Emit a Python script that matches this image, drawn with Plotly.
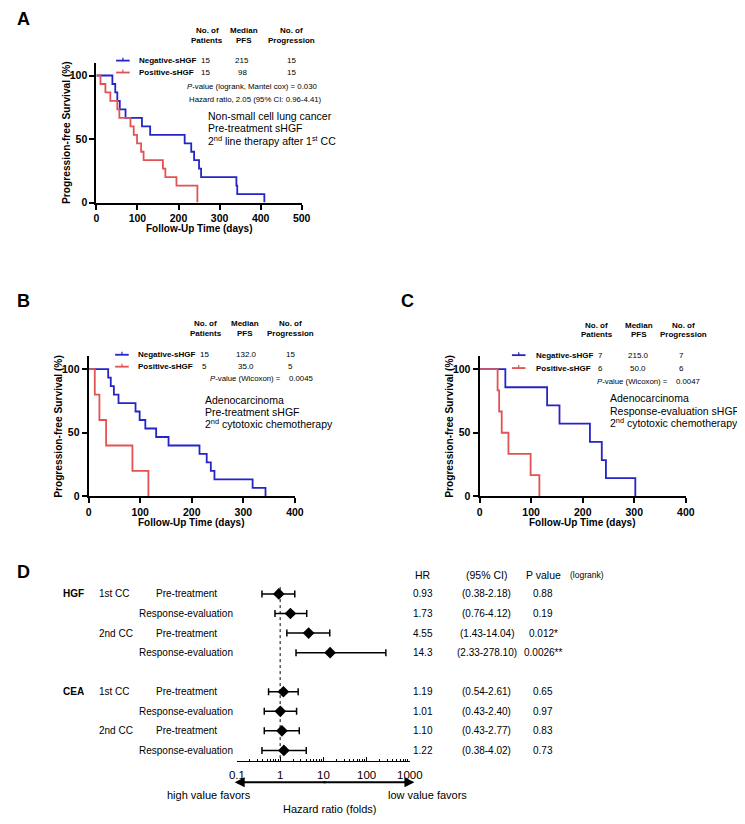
import plotly.graph_objects as go

W, H = 745, 824
OFF = 8  # page body margin of the html page
FONT = "Arial, Liberation Sans, sans-serif"
BLUE = "#2424c8"
RED = "#e25252"

# ---------------- data ----------------
# Kaplan-Meier event (progression) times, days
a_neg_times = [39, 46, 51, 57, 71, 111, 131, 215, 231, 238, 250, 255, 341, 343, 409]
a_pos_times = [10, 22, 34, 51, 56, 83, 91, 99, 109, 115, 162, 168, 195, 246, 246]
b_neg_times = [38, 43, 49, 58, 91, 99, 110, 131, 155, 215, 229, 237, 244, 318, 343]
b_pos_times = [12, 21, 34, 85, 116]
c_neg_times = [50, 131, 155, 214, 237, 245, 302]
c_pos_times = [35, 38, 43, 56, 99, 116]

group_labels = ["Negative-sHGF", "Positive-sHGF"]
a_median = ["215", "98"]
b_median = ["132.0", "35.0"]
c_median = ["215.0", "50.0"]
a_progression = ["15", "15"]
b_progression = ["15", "5"]
c_progression = ["7", "6"]

km_xticks_a = [0, 100, 200, 300, 400, 500]
km_xticks_bc = [0, 100, 200, 300, 400]
km_yticks = [0, 50, 100]

# Forest plot
forest_markers = ["HGF", "CEA"]
forest_lines = ["1st CC", "2nd CC"]
forest_timing = ["Pre-treatment", "Response-evaluation"]
forest_hr = [0.93, 1.73, 4.55, 14.3, 1.19, 1.01, 1.10, 1.22]
forest_hr_text = ["0.93", "1.73", "4.55", "14.3", "1.19", "1.01", "1.10", "1.22"]
forest_lo = [0.38, 0.76, 1.43, 2.33, 0.54, 0.43, 0.43, 0.38]
forest_hi = [2.18, 4.12, 14.04, 278.10, 2.61, 2.40, 2.77, 4.02]
forest_p = ["0.88", "0.19", "0.012*", "0.0026**", "0.65", "0.97", "0.83", "0.73"]
forest_xticks = [0.1, 1, 10, 100, 1000]
forest_xticktext = ["0.1", "1", "10", "100", "1000"]


def X(px):
    return (px - OFF) / W


def Y(py):
    return 1 - (py - OFF) / H


def km_xy(times):
    xs, ys = [0], [100.0]
    at_risk = len(times)
    s = 100.0
    for t in sorted(set(times)):
        d = times.count(t)
        s = s * (at_risk - d) / at_risk
        at_risk -= d
        xs.append(t)
        ys.append(s)
    return xs, ys


fig = go.Figure()
ann = []
shapes = []


def txt(x, y, s, size, anchor="left", color="black", yref="paper", xref="paper", vanchor="middle"):
    ann.append(dict(x=x, y=y, xref=xref, yref=yref, text=s, showarrow=False,
                    xanchor=anchor, yanchor=vanchor, borderpad=0,
                    font=dict(size=size, color=color, family=FONT)))


# ---------------- KM panels ----------------
panels = [
    dict(ax="", neg=a_neg_times, pos=a_pos_times, xdom=(90.7, 302), ydom=(204, 63.2), xmax=500,
         xt=km_xticks_a),
    dict(ax="2", neg=b_neg_times, pos=b_pos_times, xdom=(82.7, 295), ydom=(500, 358.9), xmax=400,
         xt=km_xticks_bc),
    dict(ax="3", neg=c_neg_times, pos=c_pos_times, xdom=(485, 697.3), ydom=(500, 358.9), xmax=400,
         xt=km_xticks_bc),
]

layout_axes = {}
for p in panels:
    sfx = p["ax"]
    for times, col in ((p["neg"], BLUE), (p["pos"], RED)):
        xs, ys = km_xy(times)
        fig.add_trace(go.Scatter(x=xs, y=ys, mode="lines", line=dict(color=col, width=1.8, shape="hv"),
                                 xaxis="x" + sfx, yaxis="y" + sfx, showlegend=False, hoverinfo="skip"))
    common = dict(showline=True, linewidth=2, linecolor="black", ticks="outside", ticklen=5,
                  tickwidth=2, tickcolor="black", showgrid=False, zeroline=False,
                  tickfont=dict(size=10.5, family=FONT, color="black", weight="bold"))
    layout_axes["xaxis" + sfx] = dict(domain=[X(p["xdom"][0]), X(p["xdom"][1])], range=[0, p["xmax"]],
                                      tickvals=p["xt"], anchor="y" + sfx, **common)
    layout_axes["yaxis" + sfx] = dict(domain=[Y(p["ydom"][0]), Y(p["ydom"][1])], range=[0, 110],
                                      tickvals=km_yticks, anchor="x" + sfx, **common)
    # axis titles
    xc = (p["xdom"][0] + p["xdom"][1]) / 2
    yc = (p["ydom"][0] + p["ydom"][1]) / 2
    txt(X(xc), Y(p["ydom"][0] + 26), "<b>Follow-Up Time (days)</b>", 10, anchor="center")
    ann.append(dict(x=X(p["xdom"][0] - 31), y=Y(yc), xref="paper", yref="paper",
                    text="<b>Progression-free Survival (%)</b>", showarrow=False, textangle=-90,
                    xanchor="center", yanchor="middle",
                    font=dict(size=10.2, color="black", family=FONT)))


def legend_block(line_x0, line_x1, y_neg, y_pos, label_x, col_x, counts, medians, progs,
                 head_y1, head_x, p_text, p_x, p_y, p_val=None, p_val_x=None):
    for yy, col in ((y_neg, BLUE), (y_pos, RED)):
        shapes.append(dict(type="line", xref="paper", yref="paper", x0=X(line_x0), x1=X(line_x1),
                           y0=Y(yy), y1=Y(yy), line=dict(color=col, width=1.8)))
        xm = (line_x0 + line_x1) / 2
        shapes.append(dict(type="line", xref="paper", yref="paper", x0=X(xm), x1=X(xm),
                           y0=Y(yy), y1=Y(yy - 3), line=dict(color=col, width=1.2)))
    for yy, lab, n, med, prg in zip((y_neg, y_pos), group_labels, counts, medians, progs):
        txt(X(label_x), Y(yy), "<b>" + lab + "</b>", 8)
        txt(X(col_x[0]), Y(yy), str(n), 8, anchor="center")
        txt(X(col_x[1]), Y(yy), med, 8, anchor="center")
        txt(X(col_x[2]), Y(yy), prg, 8, anchor="center")
    heads = [("No. of", "Patients"), ("Median", "PFS"), ("No. of", "Progression")]
    for hx, (l1, l2) in zip(head_x, heads):
        txt(X(hx), Y(head_y1), "<b>" + l1 + "</b>", 8, anchor="center")
        txt(X(hx), Y(head_y1 + 9.5), "<b>" + l2 + "</b>", 8, anchor="center")
    txt(X(p_x), Y(p_y), p_text, 7.8)
    if p_val is not None:
        txt(X(p_val_x), Y(p_y), p_val, 7.8, anchor="center")


# Panel A
txt(X(OFF), 1.0, "<b>A</b>", 18, vanchor="top")
legend_block(111, 125, 61, 73, 133.3, (203, 240.7, 291),
             [len(a_neg_times), len(a_pos_times)], a_median, a_progression,
             31, (205, 242.7, 291), "<i>P</i>-value (logrank, Mantel cox) = 0.030", 183, 86.7)
txt(X(185), Y(100), "Hazard ratio, 2.05 (95% CI: 0.96-4.41)", 7.8)
for yy, s in zip((117, 129.3, 141.7), ("Non-small cell lung cancer", "Pre-treatment sHGF",
                                       "2<sup>nd</sup> line therapy after 1<sup>st</sup> CC")):
    txt(X(204.7), Y(yy), s, 10.5)

# Panel B
txt(X(OFF), Y(303), "<b>B</b>", 18)
legend_block(110, 124, 357.3, 369.3, 132.7, (201.7, 245, 290),
             [len(b_neg_times), len(b_pos_times)], b_median, b_progression,
             326, (203.3, 243.3, 290), "<i>P</i>-value (Wicoxon) =", 206.7, 381.7, "0.0045", 301.3)
for yy, s in zip((402.7, 414.7, 427), ("Adenocarcinoma", "Pre-treatment sHGF",
                                       "2<sup>nd</sup> cytotoxic chemotherapy")):
    txt(X(201), Y(yy), s, 10.5)

# Panel C
txt(X(403), Y(303), "<b>C</b>", 18)
legend_block(518.3, 532.3, 357.7, 370.7, 541.7, (609, 648.5, 692.3),
             [len(c_neg_times), len(c_pos_times)], c_median, c_progression,
             327.7, (605.7, 648.7, 695), "<i>P</i>-value (Wicoxon) =", 605, 384, "0.0047", 699.3)
for yy, s in zip((401.3, 413.7, 425.7), ("Adenocarcinoma", "Response-evaluation sHGF",
                                         "2<sup>nd</sup> cytotoxic chemotherapy")):
    txt(X(618.3), Y(yy), s, 10.5)

# ---------------- Forest plot (D) ----------------
row_pos = []
row_timing = []
for g in range(len(forest_markers)):
    for li in range(len(forest_lines)):
        for ti in range(len(forest_timing)):
            row_pos.append(g * 5 + li * 2 + ti)
            row_timing.append(forest_timing[ti])

fig.add_trace(go.Scatter(x=[1, 1], y=[-0.35, 8.55], mode="lines",
                         line=dict(color="black", width=1, dash="dot"),
                         xaxis="x4", yaxis="y4", showlegend=False, hoverinfo="skip"))
fig.add_trace(go.Scatter(
    x=forest_hr, y=row_pos, mode="markers",
    marker=dict(symbol="diamond", size=9, color="black"),
    error_x=dict(type="data", symmetric=False,
                 array=[h - m for h, m in zip(forest_hi, forest_hr)],
                 arrayminus=[m - l for m, l in zip(forest_hr, forest_lo)],
                 color="black", thickness=1.5, width=3.5),
    xaxis="x4", yaxis="y4", showlegend=False, hoverinfo="skip"))

minor_vals = [k * 10 ** e for e in range(-1, 3) for k in range(2, 10)]
layout_axes["xaxis4"] = dict(domain=[X(235.3), X(413.3)], type="log", range=[-1, 3],
                             anchor="y4", showline=True, linewidth=1, linecolor="black",
                             ticks="inside", ticklen=4, tickwidth=1, tickcolor="black",
                             tickvals=forest_xticks, ticktext=forest_xticktext,
                             ticklabelstandoff=3,
                             minor=dict(tickvals=minor_vals, ticks="inside", ticklen=2,
                                        tickwidth=1, tickcolor="black", showgrid=False),
                             showgrid=False, zeroline=False,
                             tickfont=dict(size=11.5, family=FONT, color="black"))
layout_axes["yaxis4"] = dict(domain=[Y(766.7), Y(568.7)], range=[8.55, -1.5], anchor="x4",
                             visible=False, showgrid=False, zeroline=False)

txt(X(OFF), Y(576), "<b>D</b>", 18)
# header
head_y = Y(579.3)
txt(X(426.7), head_y, "HR", 10.5, anchor="center")
txt(X(492.3), head_y, "(95% CI)", 10.5, anchor="center")
txt(X(550.7), head_y, "P value", 10.5, anchor="center")
txt(X(596), head_y, "(logrank)", 8.5, anchor="center")

for g, mk in enumerate(forest_markers):
    txt(X(55), g * 5, "<b>" + mk + "</b>", 10, yref="y4")
    for li, ln in enumerate(forest_lines):
        txt(X(92), g * 5 + li * 2, ln, 10, yref="y4")

for rp, tm, hr_t, lo, hi, pv in zip(row_pos, row_timing, forest_hr_text, forest_lo, forest_hi, forest_p):
    txt(X(183), rp, tm, 10, anchor="center", yref="y4")
    txt(X(426.7), rp, hr_t, 10, anchor="center", yref="y4")
    txt(X(492.3), rp, "({:.2f}-{:.2f})".format(lo, hi), 10, anchor="center", yref="y4")
    txt(X(550.7), rp, pv, 10, anchor="center", yref="y4")

# double arrow
arrow_y = Y(788)
mid = (233 + 418) / 2
ann.append(dict(x=X(233), y=arrow_y, xref="paper", yref="paper", ax=mid - 233, ay=0,
                text="", showarrow=True, arrowhead=2, arrowsize=1, arrowwidth=2, arrowcolor="black"))
ann.append(dict(x=X(418), y=arrow_y, xref="paper", yref="paper", ax=mid - 418, ay=0,
                text="", showarrow=True, arrowhead=2, arrowsize=1, arrowwidth=2, arrowcolor="black"))
txt(X(206.7), Y(800.7), "high value favors", 11, anchor="center")
txt(X(431), Y(800.7), "low value favors", 11, anchor="center")
txt(X(331), Y(815), "Hazard ratio (folds)", 11, anchor="center")

fig.update_layout(width=W, height=H, margin=dict(l=0, r=0, t=0, b=0),
                  paper_bgcolor="white", plot_bgcolor="white",
                  font=dict(family=FONT, color="black"),
                  annotations=ann, shapes=shapes, showlegend=False, **layout_axes)

fig.write_html("out.html")
